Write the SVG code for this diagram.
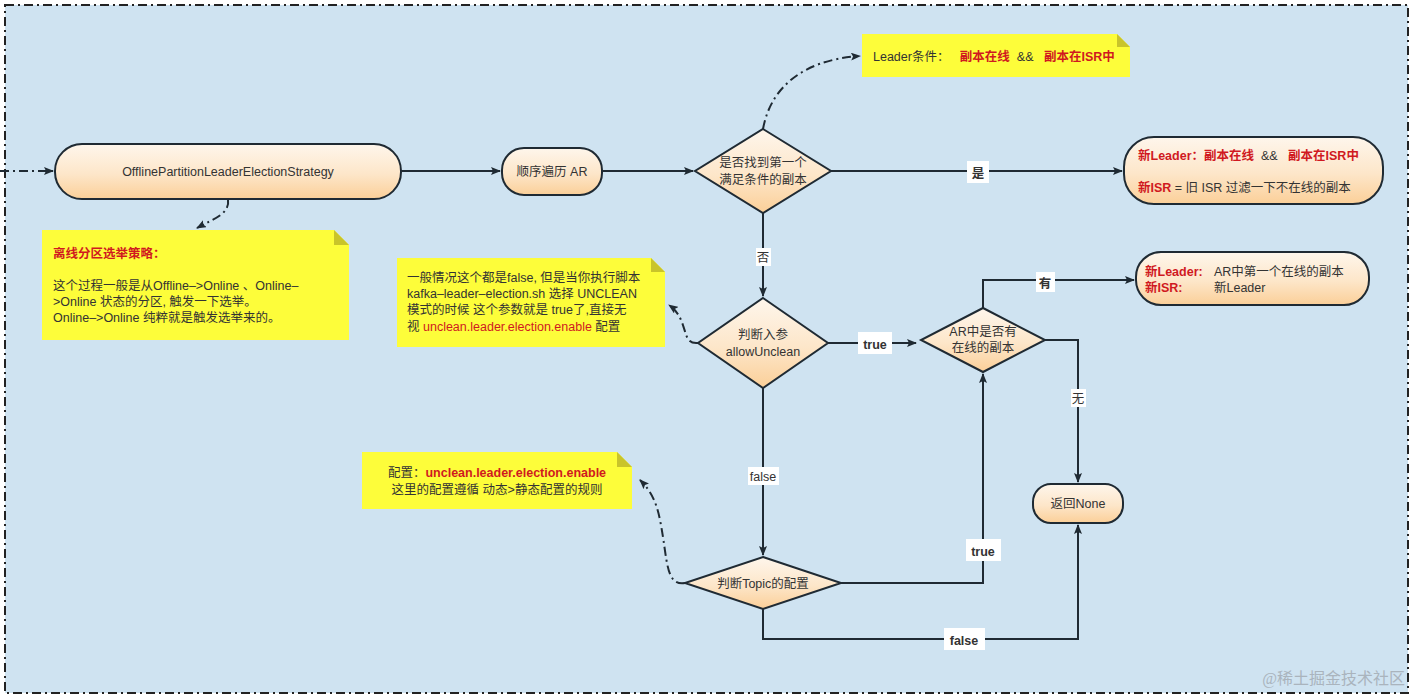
<svg xmlns="http://www.w3.org/2000/svg" width="1414" height="697" viewBox="0 0 1414 697">
<defs>
<linearGradient id="g" x1="0" y1="0" x2="0" y2="1"><stop offset="0" stop-color="#fef6ec"/><stop offset="0.55" stop-color="#fde6c9"/><stop offset="1" stop-color="#fbcf98"/></linearGradient>
<marker id="a" markerWidth="10" markerHeight="8" refX="9" refY="4" orient="auto" markerUnits="userSpaceOnUse"><path d="M0,0 L10,4 L0,8 L2,4 Z" fill="#1f2a33"/></marker>
<style>
.n{fill:url(#g);stroke:#1f2a33;stroke-width:2}
.t{font-family:"Liberation Sans","Noto Sans CJK SC",sans-serif;font-size:12.5px;fill:#333}
.r{fill:#d0191f}
.b{font-weight:bold}
.c{text-anchor:middle}
.l{fill:none;stroke:#1f2a33;stroke-width:2}
.d{fill:none;stroke:#1f2a33;stroke-width:2;stroke-dasharray:9 4 2 4}
.lb{fill:#fff}
.note{fill:#fdfd3a}
.fold{fill:#c9c42a}
</style>
</defs>
<rect x="0" y="0" width="1414" height="697" fill="#fff"/>
<rect x="5" y="5" width="1403" height="688" fill="#cfe3f1" stroke="#222" stroke-width="2" stroke-dasharray="9 4 2 4"/>

<g id="connectors">
<path class="d" d="M0,171 L53,171" marker-end="url(#a)"/>
<path class="l" d="M401,171 L500,171" marker-end="url(#a)"/>
<path class="l" d="M602,171 L693,171" marker-end="url(#a)"/>
<path class="l" d="M831,171 L1122,171" marker-end="url(#a)"/>
<path class="d" d="M763,129 C770,90 800,60 860,56" marker-end="url(#a)"/>
<path class="d" d="M228,199 C230,214 215,218 197,228" marker-end="url(#a)"/>
<path class="l" d="M763,213 L763,296" marker-end="url(#a)"/>
<path class="d" d="M698,343 C680,345 690,320 669,305" marker-end="url(#a)"/>
<path class="l" d="M828,343 L916,343" marker-end="url(#a)"/>
<path class="l" d="M983,308 L983,280 L1134,280" marker-end="url(#a)"/>
<path class="l" d="M1045,340 L1078,340 L1078,482" marker-end="url(#a)"/>
<path class="l" d="M763,388 L763,555" marker-end="url(#a)"/>
<path class="d" d="M685,583 C665,586 668,560 660,520 C656,500 650,490 640,480" marker-end="url(#a)"/>
<path class="l" d="M841,583 L983,583 L983,374" marker-end="url(#a)"/>
<path class="l" d="M763,609 L763,639 L1078,639 L1078,525" marker-end="url(#a)"/>
<rect class="lb" x="967" y="161" width="22" height="22"/><text class="t b c" x="978" y="178" font-size="16">是</text>
<rect class="lb" x="756" y="248" width="15" height="18"/><text class="t c" x="763" y="262">否</text>
<rect class="lb" x="858" y="332" width="34" height="22"/><text class="t b c" x="875" y="349" font-size="16">true</text>
<rect class="lb" x="1036" y="272" width="19" height="20"/><text class="t b c" x="1045" y="288" font-size="16">有</text>
<rect class="lb" x="1071" y="389" width="15" height="18"/><text class="t c" x="1078" y="403">无</text>
<rect class="lb" x="748" y="467" width="31" height="18"/><text class="t c" x="763" y="481">false</text>
<rect class="lb" x="966" y="539" width="35" height="22"/><text class="t b c" x="983" y="556" font-size="16">true</text>
<rect class="lb" x="944" y="628" width="41" height="22"/><text class="t b c" x="964" y="645" font-size="16">false</text>
</g>

<g id="main"><rect class="n" x="55" y="144" width="346" height="55" rx="27"/><text class="t c" x="228" y="176">OfflinePartitionLeaderElectionStrategy</text></g>
<g id="iterate"><rect class="n" x="502" y="148" width="100" height="47" rx="22"/><text class="t c" x="552" y="176">顺序遍历 AR</text></g>
<g id="find"><polygon class="n" points="763,129 831,171 763,213 695,171"/><text class="t c" x="763" y="167">是否找到第一个</text><text class="t c" x="763" y="184">满足条件的副本</text></g>
<g id="result1"><rect class="n" x="1124" y="137" width="259" height="67" rx="30"/>
<text class="t" x="1138" y="160" xml:space="preserve"><tspan class="r b">新Leader：副本在线</tspan>  &amp;&amp;   <tspan class="r b">副本在ISR中</tspan></text>
<text class="t" x="1138" y="192"><tspan class="r b">新ISR</tspan> = 旧 ISR 过滤一下不在线的副本</text></g>
<g id="note-top"><path class="note" d="M862,34 L1117,34 L1130,47 L1130,77 L862,77 Z"/><path class="fold" d="M1117,34 L1130,47 L1117,47 Z"/>
<text class="t" x="873" y="61" xml:space="preserve">Leader条件：   <tspan class="r b">副本在线</tspan>  &amp;&amp;   <tspan class="r b">副本在ISR中</tspan></text></g>
<g id="note1"><path class="note" d="M42,230 L334,230 L349,245 L349,340 L42,340 Z"/><path class="fold" d="M334,230 L349,245 L334,245 Z"/>
<text class="t r b" x="53" y="258">离线分区选举策略：</text>
<text class="t" x="53" y="290">这个过程一般是从Offline–&gt;Online 、Online–</text>
<text class="t" x="53" y="306">&gt;Online 状态的分区, 触发一下选举。</text>
<text class="t" x="53" y="322">Online–&gt;Online 纯粹就是触发选举来的。</text></g>
<g id="note2"><path class="note" d="M397,258 L651,258 L665,272 L665,347 L397,347 Z"/><path class="fold" d="M651,258 L665,272 L651,272 Z"/>
<text class="t" x="407" y="282">一般情况这个都是false, 但是当你执行脚本</text>
<text class="t" x="407" y="298">kafka–leader–election.sh 选择 UNCLEAN</text>
<text class="t" x="407" y="314">模式的时候 这个参数就是 true了,直接无</text>
<text class="t" x="407" y="331">视 <tspan class="r">unclean.leader.election.enable</tspan> 配置</text></g>
<g id="allowUnclean"><polygon class="n" points="763,298 828,343 763,388 698,343"/><text class="t c" x="763" y="339">判断入参</text><text class="t c" x="763" y="356">allowUnclean</text></g>
<g id="arOnline"><polygon class="n" points="983,308 1045,340 983,372 921,340"/><text class="t c" x="983" y="336">AR中是否有</text><text class="t c" x="983" y="352">在线的副本</text></g>
<g id="result2"><rect class="n" x="1136" y="252" width="233" height="53" rx="25"/>
<text class="t" x="1145" y="276"><tspan class="r b">新Leader:</tspan><tspan x="1214">AR中第一个在线的副本</tspan></text>
<text class="t" x="1145" y="292"><tspan class="r b">新ISR:</tspan><tspan x="1214">新Leader</tspan></text></g>
<g id="none"><rect class="n" x="1033" y="484" width="90" height="39" rx="18"/><text class="t c" x="1078" y="508">返回None</text></g>
<g id="topic"><polygon class="n" points="763,557 841,583 763,609 685,583"/><text class="t c" x="763" y="588">判断Topic的配置</text></g>
<g id="note3"><path class="note" d="M362,452 L617,452 L632,467 L632,509 L362,509 Z"/><path class="fold" d="M617,452 L632,467 L617,467 Z"/>
<text class="t c" x="497" y="477">配置：<tspan class="r b">unclean.leader.election.enable</tspan></text>
<text class="t c" x="497" y="494">这里的配置遵循 动态&gt;静态配置的规则</text></g>
<text x="1405" y="684" text-anchor="end" font-family="Liberation Serif,Noto Sans CJK SC,serif" font-size="16" fill="#aab4bd">@稀土掘金技术社区</text>
</svg>
